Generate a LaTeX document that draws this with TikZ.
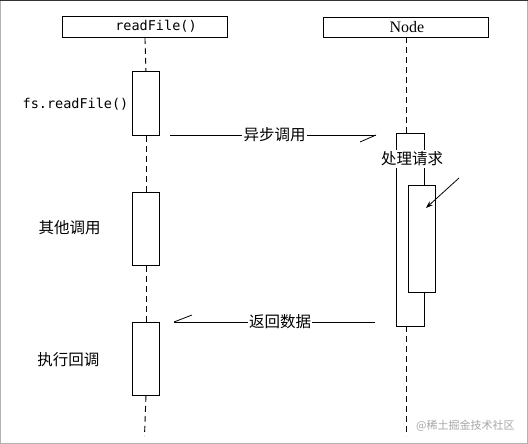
\documentclass[tikz,border=0pt]{standalone}
\usepackage{fontspec}
\newfontfamily\cjk{Noto Sans CJK SC}
\newfontfamily\monof{DejaVu Sans Mono}
\newfontfamily\serif{Liberation Serif}
\usetikzlibrary{arrows.meta}
\begin{document}
\begin{tikzpicture}[x=1pt,y=-1pt,
  box/.style={draw,line width=0.9pt,fill=white,inner sep=0pt,anchor=north west},
  life/.style={line width=0.9pt,dash pattern=on 6pt off 4pt},
  msg/.style={line width=0.8pt},
  cjklab/.style={font=\cjk\fontsize{15.5}{15.5}\selectfont,inner sep=1pt},
  monolab/.style={font=\monof\fontsize{13.5}{13.5}\selectfont,inner sep=0pt},
]
\useasboundingbox (0,0) rectangle (528,444);
\draw[gray!60,line width=1.2pt] (0.6,0.6) rectangle (527.4,443.4);
\draw[black!80,line width=1.5pt] (0,0.75) -- (528,0.75);

% headers
\node[box,minimum width=165pt,minimum height=21pt] (rf) at (62,16) {};
\node[monolab] (rft) at (156,26.5) {readFile()};
\node[box,minimum width=165pt,minimum height=20pt] (nd) at (323,17) {};
\node[font=\serif\fontsize{16}{16}\selectfont,inner sep=0pt] (ndt) at (407,27) {Node};

% left activation boxes
\node[box,minimum width=27pt,minimum height=64pt] (b1) at (132,71) {};
\node[box,minimum width=27pt,minimum height=73pt] (b2) at (132,192) {};
\node[box,minimum width=27pt,minimum height=73pt] (b3) at (132,322) {};
\coordinate (lend) at (144.5,436);

% left lifeline
\draw[life] (rf.south) -- (b1.north);
\draw[life] (b1.south) -- (b2.north);
\draw[life] (b2.south) -- (b3.north);
\draw[life] (b3.south) -- (lend);

% right activation
\node[box,minimum width=28pt,minimum height=193pt] (ob) at (396,133) {};
\node[box,minimum width=27pt,minimum height=107pt] (ib) at (408,185) {};
\coordinate (rend) at (406,436);
\draw[life] (406,37) -- (406,133);
\draw[life] (406,326) -- (rend);

% left labels
\node[monolab,anchor=east] (fsr) at (128.5,104) {fs.readFile()};
\node[cjklab] (qt) at (69.5,228) {其他调用};
\node[cjklab] (zx) at (68.5,360) {执行回调};

% async call message
\coordinate (a1s) at (170,135);
\coordinate (a1e) at (376,135);
\node[cjklab] (yb) at (274.5,135) {异步调用};
\draw[msg] (a1s) -- (yb.west);
\draw[msg] (yb.east) -- (a1e);
\draw[msg] (a1e) -- ++(-16,7);

% processing label and pointer
\node[cjklab,fill=white,inner sep=2pt] (cl) at (412,159) {处理请求};
\coordinate (ps) at (459,178);
\draw[line width=0.8pt,-{Stealth[length=7pt,width=5pt]}] (ps) -- (426,208);

% return message
\coordinate (r1s) at (375,322);
\coordinate (r1e) at (174,322);
\node[cjklab] (fh) at (280,322) {返回数据};
\draw[msg] (r1s) -- (fh.east);
\draw[msg] (fh.west) -- (r1e);
\draw[msg] (r1e) -- ++(18,-7);

% watermark
\node[font=\cjk\fontsize{11}{11}\selectfont,text=gray!70,anchor=west,inner sep=0pt] (wm) at (416,426) {@稀土掘金技术社区};
\end{tikzpicture}
\end{document}
